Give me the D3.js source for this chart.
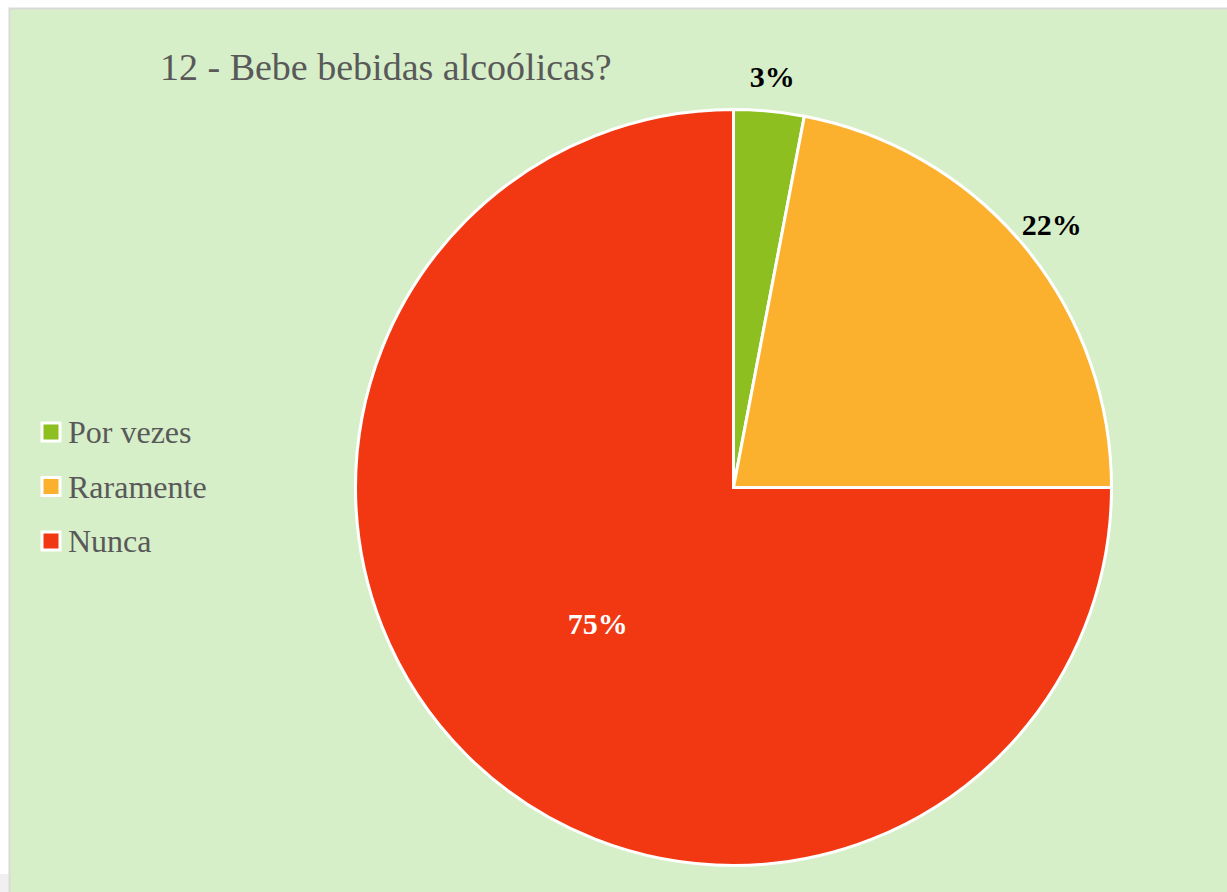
<!DOCTYPE html>
<html>
<head>
<meta charset="utf-8">
<script src="https://cdn.jsdelivr.net/npm/d3@7/dist/d3.min.js"></script>
<style>
  html, body { margin: 0; padding: 0; background: #ffffff; }
  svg { display: block; }
</style>
</head>
<body>
<svg id="chart" width="1227" height="892"></svg>
<script>
// Survey answers for question 12
const title = "12 - Bebe bebidas alcoólicas?";
const categories = ["Por vezes", "Raramente", "Nunca"];
const values = [3, 22, 75];
const colors = ["#8cbf1f", "#fcb12e", "#f23813"];
const labelColors = ["#000000", "#000000", "#ffffff"];

const W = 1227, H = 892;
const svg = d3.select("#chart");
const serif = "'Liberation Serif', 'DejaVu Serif', serif";

// Page strip and chart area
svg.append("rect").attr("x", 0).attr("y", 874).attr("width", 10).attr("height", 18).attr("fill", "#f0f0f0");
svg.append("rect")
  .attr("x", 9.5).attr("y", 8.5).attr("width", W).attr("height", H)
  .attr("fill", "#d6efc8").attr("stroke", "#d9d9d9").attr("stroke-width", 2);

// Title
svg.append("text")
  .attr("x", 160).attr("y", 80)
  .attr("font-family", serif).attr("font-size", 38)
  .attr("fill", "#595959")
  .text(title);

// Pie
const cx = 733.5, cy = 487.5, R = 378;
const pie = d3.pie().sort(null).value(d => d.value);
const data = categories.map((c, i) => ({ name: c, value: values[i], color: colors[i], lc: labelColors[i] }));
const arcs = pie(data);
const arc = d3.arc().innerRadius(0).outerRadius(R);
const outerLabel = d3.arc().innerRadius(413).outerRadius(413);
const innerLabel = d3.arc().innerRadius(192).outerRadius(192);

const g = svg.append("g").attr("transform", `translate(${cx},${cy})`);
g.selectAll("path.slice").data(arcs).enter().append("path")
  .attr("class", "slice")
  .attr("d", arc)
  .attr("fill", d => d.data.color)
  .attr("stroke", "#ffffff").attr("stroke-width", 3).attr("stroke-linejoin", "miter");

// Value labels: small slices outside, the large slice inside
g.selectAll("text.val").data(arcs).enter().append("text")
  .attr("class", "val")
  .attr("transform", d => {
    const p = (d.data.value >= 50 ? innerLabel : outerLabel).centroid(d);
    return `translate(${p[0]},${p[1]})`;
  })
  .attr("text-anchor", "middle").attr("dy", "0.35em")
  .attr("font-family", serif).attr("font-size", 30).attr("font-weight", "bold")
  .attr("fill", d => d.data.lc)
  .text(d => d.data.value + "%");

// Legend
const lg = svg.append("g").attr("transform", "translate(42,432)");
const items = lg.selectAll("g").data(data).enter().append("g")
  .attr("transform", (d, i) => `translate(0,${i * 54.5})`);
items.append("rect")
  .attr("x", 0).attr("y", -9).attr("width", 18).attr("height", 18)
  .attr("fill", d => d.color).attr("stroke", "#ffffff").attr("stroke-width", 3);
items.append("text")
  .attr("x", 26).attr("y", 0).attr("dy", "0.35em")
  .attr("font-family", serif).attr("font-size", 32)
  .attr("fill", "#595959")
  .text(d => d.name);
</script>
</body>
</html>
